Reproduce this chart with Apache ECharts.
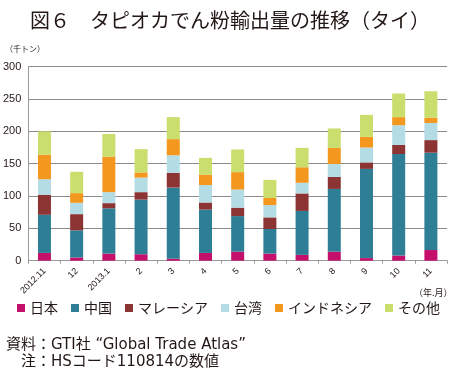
<!DOCTYPE html>
<html><head><meta charset="utf-8">
<script src="https://cdn.jsdelivr.net/npm/echarts@6/dist/echarts.min.js"></script>
<style>html,body{margin:0;padding:0;background:#fff}#c{width:450px;height:372px}</style>
</head><body><div id="c"></div>
<script>
var categories = ['2012.11','12','2013.1','2','3','4','5','6','7','8','9','10','11'];
var seriesNames = ['日本','中国','マレーシア','台湾','インドネシア','その他'];
var japan     = [12, 5, 11, 10, 3, 12, 14, 11, 9, 14, 4, 8, 16.5];
var china     = [59, 42, 70, 84.5, 110, 67, 55, 38, 68, 97, 138, 157, 150.5];
var malaysia  = [31, 25, 8, 11.5, 23, 11, 13, 18, 27, 18.5, 10, 14, 19.5];
var taiwan    = [24, 17.5, 17, 22.5, 27, 27, 28, 19, 16.5, 20, 23, 30.5, 26.5];
var indonesia = [38, 15, 55, 8, 25, 16, 27, 11, 24, 25, 16.5, 12.5, 8];
var others    = [36, 33, 35, 36, 34, 26, 35, 28, 30, 30, 34, 36.5, 41];
var yTicks = [0, 50, 100, 150, 200, 250, 300];
var colors = ['#C4106A','#2E7F96','#8C3434','#B4DCE5','#F3971E','#C9DE6C'];

var dataSets = [japan, china, malaysia, taiwan, indonesia, others];
var cjk = '"Noto Sans CJK JP", sans-serif';
var mixed = '"DejaVu Sans", "Noto Sans CJK JP", sans-serif';
var txt = '#231815';

var chart = echarts.init(document.getElementById('c'));
chart.setOption({
  animation: false,
  color: colors,
  title: [
    {text: '図６　タピオカでん粉輸出量の推移（タイ）', left: 25, top: 5,
     textStyle: {fontFamily: cjk, fontSize: 20, fontWeight: 'normal', color: txt}},
    {text: '（千トン）', left: 0, top: 40,
     textStyle: {fontFamily: cjk, fontSize: 8, fontWeight: 'normal', color: txt}},
    {text: '（年.月）', left: 409, top: 283,
     textStyle: {fontFamily: cjk, fontSize: 9, fontWeight: 'normal', color: txt}},
    {text: '資料：GTI社 “Global Trade Atlas”', left: 1, top: 333,
     textStyle: {fontFamily: mixed, fontSize: 15, fontWeight: 'normal', color: txt}},
    {text: '注：HSコード110814の数値', left: 16, top: 350,
     textStyle: {fontFamily: mixed, fontSize: 15, fontWeight: 'normal', color: txt}}
  ],
  legend: {
    data: seriesNames, left: 17, top: 301, padding: 0, width: 433, icon: 'rect', itemWidth: 8, itemHeight: 8,
    itemGap: 13, textStyle: {fontFamily: cjk, fontSize: 14, color: txt}
  },
  grid: {left: 28, right: 3, top: 66.7, bottom: 111.3},
  xAxis: {
    type: 'category', data: categories,
    axisLine: {lineStyle: {color: '#9a9a9a'}},
    axisTick: {show: true, alignWithLabel: false, length: 3, lineStyle: {color: '#9a9a9a'}},
    axisLabel: {interval: 0, rotate: 45, fontSize: 9, margin: 9, color: txt, fontFamily: '"Liberation Sans", Arial, sans-serif'}
  },
  yAxis: {
    type: 'value', min: yTicks[0], max: yTicks[yTicks.length-1], interval: 50,
    axisLine: {show: true, lineStyle: {color: '#9a9a9a'}},
    axisTick: {show: false},
    axisLabel: {fontSize: 11, margin: 7, color: txt, fontFamily: '"Liberation Sans", Arial, sans-serif'},
    splitLine: {lineStyle: {color: '#8a8a8a', width: 1}}
  },
  series: seriesNames.map(function (n, i) {
    return {name: n, type: 'bar', stack: 'total', barWidth: 13, data: dataSets[i],
            itemStyle: {color: colors[i]}};
  })
});
</script></body></html>
